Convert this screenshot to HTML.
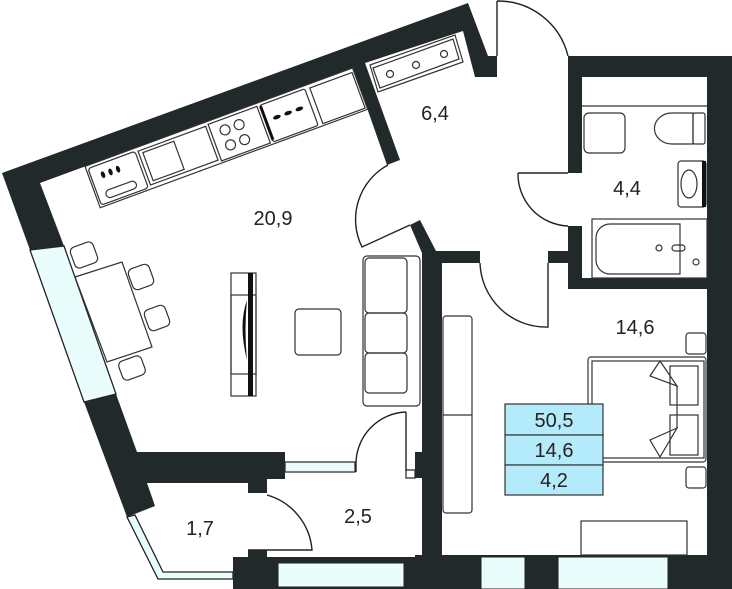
<!DOCTYPE html>
<html><head><meta charset="utf-8"><style>
html,body{margin:0;padding:0;background:#fff;width:732px;height:589px;overflow:hidden}
svg{display:block}
text{font-family:"Liberation Sans",sans-serif;font-size:20px;fill:#222;text-anchor:middle}
</style></head><body>
<svg width="732" height="589" viewBox="0 0 732 589" xmlns="http://www.w3.org/2000/svg">
<g fill="none" stroke="#333" stroke-width="1.3">
<polygon points="30,250 64,246 116,394 84,402" fill="#eafdfd" stroke="#222"/>
<polygon points="127,517 135,515 163,572 233,572 233,579 158,579" fill="#eafdfd" stroke="#222"/>
<rect x="285" y="462" width="70" height="10" fill="#eafdfd"/>
<rect x="406" y="470" width="9" height="8"/>
</g>
<g fill="#22292b">
<polygon points="2,173 468,3 488,56 497,56 497,77 475,77 463,31 365,63 400,160 387,165 353,68 40,183 64,246 30,250"/>
<polygon points="84,402 116,394 137,452 285,452 285,479 267,479 267,493 248,493 248,483 147,483 155,506 127,517"/>
<polygon points="410,225 420,220 436,251 480,251 480,263 442,263 442,589 422,589 422,253"/>
<rect x="415" y="452" width="8" height="26"/>
<rect x="548" y="251" width="22" height="12"/>
<rect x="568" y="56" width="164" height="21"/>
<rect x="568" y="56" width="14" height="117"/>
<rect x="568" y="226" width="14" height="63"/>
<rect x="568" y="278" width="140" height="11"/>
<rect x="707" y="56" width="25" height="533"/>
<rect x="415" y="555" width="317" height="34"/>
<polygon points="233,557 248,557 248,550 267,550 267,557 415,557 415,589 233,589"/>
</g>
<g fill="#eafdfd" stroke="#222" stroke-width="1">
<rect x="278" y="563" width="126" height="24"/>
<rect x="481" y="557" width="44" height="32"/>
<rect x="558" y="557" width="110" height="32"/>
</g>
<g fill="none" stroke="#222" stroke-width="1.4">
<path d="M497 1 L497 56 M497 1 A72 72 0 0 1 568 56"/>
<path d="M388 165 A62 62 0 0 0 362 247 L410 225"/>
<path d="M518 173 L568 173 M518 173 A52 52 0 0 0 568 226"/>
<path d="M548 263 L548 327 A66 66 0 0 1 480 263"/>
<path d="M406 412 L406 471 M406 412 A52 52 0 0 0 356 466 L356 472"/>
<path d="M267 495 A62 62 0 0 1 312 550 L248 550"/>
</g>
<g fill="none" stroke="#333" stroke-width="1.2">
<polygon points="370,65 455,35 463,62 378,92"/>
<polygon points="373,68 453,39 459,59 380,88"/>
<circle cx="390" cy="74" r="3.5"/><circle cx="416" cy="65" r="3.5"/><circle cx="444" cy="54" r="3.5"/>
<g transform="translate(40,183) rotate(-20.2)">
<rect x="48" y="0" width="285" height="44"/>
<rect x="50" y="3" width="50" height="39" rx="3"/>
<rect x="103" y="4" width="72" height="36"/>
<rect x="107" y="7" width="33" height="30"/>
<rect x="178" y="3" width="52" height="39"/>
<circle cx="192" cy="14" r="5"/><circle cx="207" cy="14" r="5"/><circle cx="192" cy="30" r="5"/><circle cx="207" cy="30" r="5"/>
<rect x="233" y="3" width="48" height="39" rx="2"/>
<rect x="286" y="4" width="45" height="38"/>
<rect x="58" y="30" width="32" height="8" rx="4"/>
</g>
<polygon points="75,277 122,262 152,347 107,362"/>
<rect x="72" y="244" width="24" height="22" rx="5" transform="rotate(-20 84 255)"/>
<rect x="130" y="266" width="22" height="22" rx="5" transform="rotate(-20 141 277)"/>
<rect x="146" y="307" width="22" height="22" rx="5" transform="rotate(-20 157 318)"/>
<rect x="120" y="358" width="24" height="20" rx="5" transform="rotate(-20 132 368)"/>
<rect x="231" y="273" width="25" height="123"/>
<rect x="231" y="295" width="25" height="79"/>
<rect x="295" y="309" width="46" height="46" rx="4"/>
<rect x="363" y="256" width="57" height="150" rx="4"/>
<rect x="365" y="258" width="42" height="55" rx="4"/>
<rect x="365" y="313" width="42" height="40" rx="4"/>
<rect x="365" y="353" width="42" height="40" rx="4"/>
<rect x="443" y="316" width="29" height="197" rx="3"/>
<line x1="443" y1="415" x2="472" y2="415"/>
<rect x="588" y="357" width="118" height="105" rx="3"/>
<rect x="592" y="361" width="112" height="97"/>
<rect x="670" y="366" width="28" height="39"/><rect x="670" y="415" width="28" height="40"/>
<polygon points="650,376 660,361 677,386 650,376"/>
<polygon points="650,440 677,428 660,457"/>
<line x1="677" y1="386" x2="677" y2="428"/>
<rect x="686" y="333" width="20" height="21" rx="3"/>
<rect x="686" y="467" width="20" height="21" rx="3"/>
<rect x="581" y="521" width="106" height="34"/>
<line x1="582" y1="106" x2="707" y2="106"/>
<rect x="584" y="113" width="41" height="40" rx="5"/>
<path d="M693 113 L672 113 A17 15 0 0 0 672 144 L693 144 Z"/>
<rect x="693" y="113" width="12" height="31" rx="2"/>
<rect x="678" y="161" width="28" height="46" rx="3"/>
<ellipse cx="689" cy="184" rx="8" ry="14"/>
<rect x="592" y="219" width="115" height="59"/>
<path d="M680 224 L610 224 A14 14 0 0 0 596 238 L596 260 A14 14 0 0 0 610 274 L680 274 Z"/>
<circle cx="659" cy="248" r="3"/><rect x="672" y="245" width="13" height="6" rx="3"/><circle cx="696" cy="262" r="3"/>
</g>
<g fill="#111">
<rect x="248" y="273" width="5" height="123"/>
<path d="M247 300 Q238 325 247 360 Q244 330 247 300Z"/>
<rect x="702" y="161" width="4" height="46"/>
<g transform="translate(40,183) rotate(-20.2)">
<ellipse cx="62" cy="14" rx="2" ry="3.5"/><ellipse cx="70" cy="14" rx="2" ry="3.5"/><ellipse cx="78" cy="14" rx="2" ry="3.5"/>
<ellipse cx="245" cy="20" rx="4" ry="2"/><ellipse cx="257" cy="20" rx="4" ry="2"/><ellipse cx="269" cy="20" rx="4" ry="2"/>
<rect x="232" y="4" width="3" height="36"/>
</g>
</g>
<g stroke="#333" stroke-width="1.2" fill="#b4ebfb">
<rect x="505" y="404" width="98" height="31"/>
<rect x="505" y="435" width="98" height="30"/>
<rect x="505" y="465" width="98" height="30"/>
</g>
<text x="554" y="427">50,5</text>
<text x="554" y="457">14,6</text>
<text x="554" y="487">4,2</text>
<text x="273" y="225">20,9</text>
<text x="435" y="120">6,4</text>
<text x="627" y="195">4,4</text>
<text x="635" y="334">14,6</text>
<text x="358" y="523">2,5</text>
<text x="200" y="535">1,7</text>
</svg>
</body></html>
